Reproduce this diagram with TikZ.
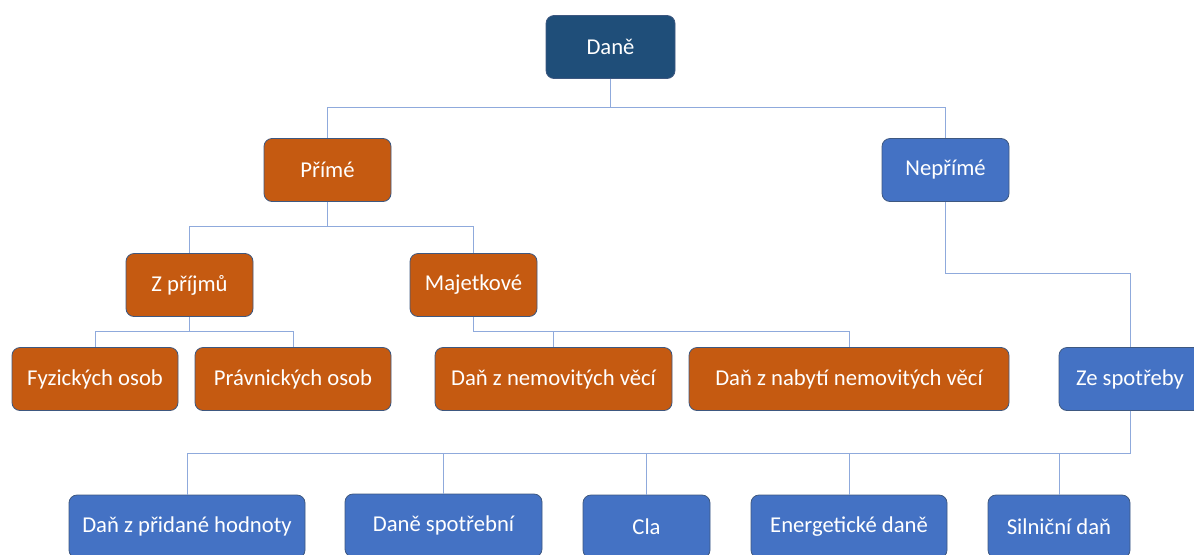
\documentclass[tikz,border=0pt]{standalone}
\usepackage{fontspec}
\setmainfont{Carlito}
\definecolor{danedark}{RGB}{31,78,121}
\definecolor{primeorange}{RGB}{197,90,17}
\definecolor{neprimeblue}{RGB}{68,114,196}
\definecolor{linkblue}{RGB}{143,170,220}
\definecolor{edgegray}{RGB}{62,88,128}
\tikzset{
  taxbox/.style={draw=edgegray, line width=0.6pt, rounded corners=6pt,
    text=white, minimum height=47.25pt, inner sep=0pt,
    font=\fontsize{17}{20}\selectfont},
  w/.style={minimum width=#1*0.75pt},
  orangebox/.style={taxbox, fill=primeorange},
  bluebox/.style={taxbox, fill=neprimeblue},
  link/.style={draw=linkblue, line width=0.75pt},
}
\begin{document}
\begin{tikzpicture}[x=0.75pt, y=-0.75pt]
        \useasboundingbox (0,0) rectangle (1194,554);
        % top level
        \node[taxbox, fill=danedark, w=129] (dane) at (610.5,47) {Daně};
        \node[orangebox, w=127] (prime) at (327.5,170) {Přímé};
        \node[bluebox, w=127] (neprime) at (945.5,170) {Nepřímé};
        % direct taxes
        \node[orangebox, w=127] (zprijmu) at (189.5,285) {Z příjmů};
        \node[orangebox, w=127] (majetkove) at (473.5,285) {Majetkové};
        \node[orangebox, w=166] (fyzicke) at (95,379) {Fyzických osob};
        \node[orangebox, w=196] (pravnicke) at (293,379) {Právnických osob};
        \node[orangebox, w=237] (nemovite) at (553.5,379) {Daň z nemovitých věcí};
        \node[orangebox, w=320] (nabyti) at (849,379) {Daň z nabytí nemovitých věcí};
        % indirect taxes
        \node[bluebox, w=142] (spotreba) at (1130,379) {Ze spotřeby};
        \node[bluebox, w=236] (dph) at (187,526.5) {Daň z přidané hodnoty};
        \node[bluebox, w=197] (spotrebni) at (443.5,525.5) {Daně spotřební};
        \node[bluebox, w=127] (cla) at (646.5,526.5) {Cla};
        \node[bluebox, w=196] (energie) at (849,526.5) {Energetické daně};
        \node[bluebox, w=142] (silnicni) at (1059,526.5) {Silniční daň};

        \draw[link] (dane.south) -- ++(0,28.5) -| (prime.north);
        \draw[link] (dane.south) -- ++(0,28.5) -| (neprime.north);
        \draw[link] (prime.south) -- ++(0,24.5) -| (zprijmu.north);
        \draw[link] (prime.south) -- ++(0,24.5) -| (majetkove.north);
        \draw[link] (zprijmu.south) -- ++(0,14.5) -| (fyzicke.north);
        \draw[link] (zprijmu.south) -- ++(0,14.5) -| (pravnicke.north);
        \draw[link] (majetkove.south) -- ++(0,14.5) -| (nemovite.north);
        \draw[link] (majetkove.south) -- ++(0,14.5) -| (nabyti.north);
        \draw[link] (neprime.south) -- ++(0,71.5) -| (spotreba.north);
        \foreach \leaf in {dph,spotrebni,cla,energie,silnicni}
          \draw[link] (spotreba.south) -- ++(0,42.5) -| (\leaf.north);
      \end{tikzpicture}
\end{document}
